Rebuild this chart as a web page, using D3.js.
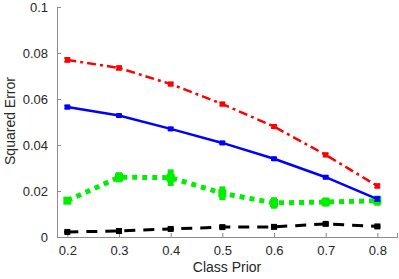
<!DOCTYPE html>
<html><head><meta charset="utf-8">
<script src="https://cdn.jsdelivr.net/npm/d3@7"></script>
<style>body{margin:0;background:#fff}svg{display:block}text{font-family:"Liberation Sans",Arial,sans-serif}</style>
</head><body>
<svg id="c" width="399" height="279"></svg>
<script>
const classPrior = [0.2, 0.3, 0.4, 0.5, 0.6, 0.7, 0.8];
const redVals   = [0.0770, 0.0735, 0.0665, 0.0578, 0.0480, 0.0357, 0.0222];
const redErr    = [0.0008, 0.0007, 0.0006, 0.0006, 0.0006, 0.0006, 0.0007];
const blueVals  = [0.0565, 0.0528, 0.0470, 0.0409, 0.0340, 0.0260, 0.0165];
const blueErr   = [0.0006, 0.0005, 0.0005, 0.0005, 0.0005, 0.0005, 0.0008];
const greenVals = [0.0158, 0.0260, 0.0258, 0.0190, 0.0148, 0.0152, 0.0158];
const greenErr  = [0.0015, 0.0022, 0.0036, 0.0030, 0.0025, 0.0020, 0.0022];
const blackVals = [0.0022, 0.0026, 0.0035, 0.0043, 0.0044, 0.0057, 0.0046];
const blackErr  = [0.0002, 0.0002, 0.0002, 0.0003, 0.0002, 0.0004, 0.0004];
const yTicks = [0, 0.02, 0.04, 0.06, 0.08, 0.1];
const xTicks = [0.2, 0.3, 0.4, 0.5, 0.6, 0.7, 0.8];

const svg = d3.select('#c');
const x = d3.scaleLinear().domain([0.18, 0.838]).range([57, 397]);
const y = d3.scaleLinear().domain([0, 0.1]).range([237, 7]);

const gx = svg.append('g').attr('transform','translate(0,237)')
  .call(d3.axisBottom(x).tickValues(xTicks).tickSize(-4).tickPadding(9).tickFormat(d3.format('')));
const gy = svg.append('g').attr('transform','translate(57,0)')
  .call(d3.axisLeft(y).tickValues(yTicks).tickSize(-4).tickPadding(9).tickFormat(d=>d===0?'0':d3.format('')(+d.toFixed(2))));
[gx,gy].forEach(g=>{
  g.select('.domain').attr('stroke','#8c8c8c').attr('stroke-width',1);
  g.selectAll('.tick line').attr('stroke','#8c8c8c');
  g.selectAll('.tick text').attr('fill','#262626').attr('font-size',13);
});

svg.append('text').attr('x',227).attr('y',272).attr('text-anchor','middle')
  .attr('font-size',14).attr('fill','#262626').text('Class Prior');
svg.append('text').attr('transform','translate(15,121) rotate(-90)').attr('text-anchor','middle')
  .attr('font-size',14).attr('fill','#262626').text('Squared Error');

const series = [
  {vals: blackVals, err: blackErr, color:'#000', w:3, dash:'11,8', ms:6, cap:3, capW:2},
  {vals: greenVals, err: greenErr, color:'#00ee00', w:5, dash:'5,5', ms:8, cap:0, capW:0},
  {vals: blueVals, err: blueErr, color:'#0000ff', w:2.5, dash:null, ms:5, cap:3, capW:2},
  {vals: redVals, err: redErr, color:'#ff0000', w:2.5, dash:'9,4,3,4', ms:5, cap:3, capW:2},
];
const line = d3.line().x((d,i)=>x(classPrior[i])).y(d=>y(d));
series.forEach(s=>{
  const g = svg.append('g');
  g.append('path').datum(s.vals).attr('d',line).attr('fill','none')
    .attr('stroke',s.color).attr('stroke-width',s.w).attr('stroke-dasharray',s.dash);
  s.vals.forEach((v,i)=>{
    const cx = x(classPrior[i]);
    const y0 = y(v - s.err[i]), y1 = y(v + s.err[i]);
    g.append('line').attr('x1',cx).attr('x2',cx).attr('y1',y0).attr('y2',y1)
      .attr('stroke',s.color).attr('stroke-width',s.w > 4 ? 6 : s.w);
    if (s.cap > 0) [y0,y1].forEach(yy=>g.append('line').attr('x1',cx-s.cap).attr('x2',cx+s.cap)
      .attr('y1',yy).attr('y2',yy).attr('stroke',s.color).attr('stroke-width',s.capW));
    g.append('rect').attr('x',cx-s.ms/2).attr('y',y(v)-s.ms/2).attr('width',s.ms).attr('height',s.ms)
      .attr('fill',s.color);
  });
});
</script>
</body></html>
